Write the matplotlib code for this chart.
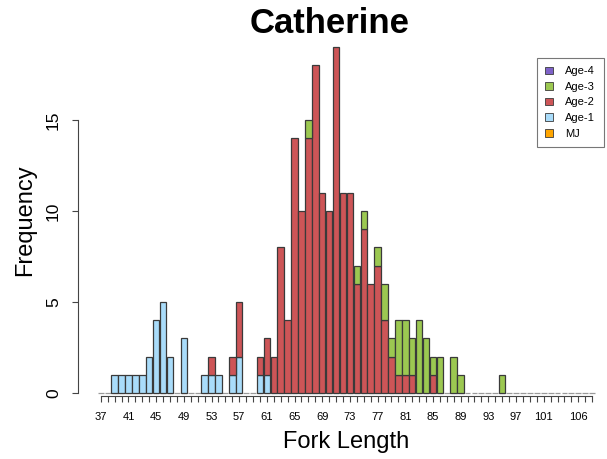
import matplotlib
matplotlib.use('Agg')
import matplotlib.pyplot as plt
from matplotlib.patches import Patch
import numpy as np

plt.rcParams['font.family'] = ['Liberation Sans', 'DejaVu Sans']

# ---- data ----
fork_length = list(range(37, 109))
tick_labels = [37, 41, 45, 49, 53, 57, 61, 65, 69, 73, 77, 81, 85, 89, 93, 97, 101, 106]

# counts per fork length (lengths not listed are 0)
age1_counts = {39: 1, 40: 1, 41: 1, 42: 1, 43: 1, 44: 2, 45: 4, 46: 5, 47: 2, 49: 3,
               52: 1, 53: 1, 54: 1, 56: 1, 57: 2, 60: 1, 61: 1}
age2_counts = {53: 1, 56: 1, 57: 3, 60: 1, 61: 2, 62: 2, 63: 8, 64: 4, 65: 14, 66: 10,
               67: 14, 68: 18, 69: 11, 70: 10, 71: 19, 72: 11, 73: 11, 74: 6, 75: 9,
               76: 6, 77: 7, 78: 4, 79: 2, 80: 1, 81: 1, 82: 1, 85: 1}
age3_counts = {67: 1, 74: 1, 75: 1, 77: 1, 78: 2, 79: 1, 80: 3, 81: 3, 82: 2, 83: 4,
               84: 3, 85: 1, 86: 2, 88: 2, 89: 1, 95: 1}
age4_counts = {}
mj_counts = {}

series_names = ['MJ', 'Age-1', 'Age-2', 'Age-3', 'Age-4']
series_counts = [mj_counts, age1_counts, age2_counts, age3_counts, age4_counts]
series_colors = ['#FFA500', '#A9DCFA', '#CD5557', '#9CC851', '#7E62C8']

# ---- figure ----
W, H = 607, 459
fig = plt.figure(figsize=(W / 100, H / 100), dpi=100)
ax = fig.add_axes([78 / W, (H - 406.8) / H, (W - 78) / W, (406.8 - 33.4) / H])

x = np.array(fork_length, dtype=float)
bw = 0.94
edge = '#3a3a3a'

# baseline segments (zero-height bars as drawn by R)
ax.hlines(np.zeros_like(x), x - 0.42, x + 0.42, colors='#9a9a9a', linewidth=0.9, zorder=1)

bottom = np.zeros(len(x))
for name, cnt, col in zip(series_names, series_counts, series_colors):
    vals = np.array([cnt.get(f, 0) for f in fork_length], dtype=float)
    mask = vals > 0
    if mask.any():
        ax.bar(x[mask], vals[mask], width=bw, bottom=bottom[mask], color=col,
               edgecolor=edge, linewidth=0.9, zorder=2)
    bottom += vals

ax.set_xlim(37 - 3.295, 37 + (W - 100.8) / 6.92)
ax.set_ylim(-0.76, 19.76)

for s in ['top', 'right']:
    ax.spines[s].set_visible(False)
ax.spines['left'].set_bounds(0, 15)
ax.spines['bottom'].set_position(('data', -0.17))
ax.spines['bottom'].set_bounds(fork_length[0], fork_length[-1])
for s in ['left', 'bottom']:
    ax.spines[s].set_color('#444444')
    ax.spines[s].set_linewidth(0.8)

ax.set_yticks([0, 5, 10, 15])
ax.set_yticklabels(['0', '5', '10', '15'], rotation=90, va='center', fontsize=12.5)
ax.tick_params(axis='y', length=4.3, width=0.8, color='#444444', pad=8)

ax.set_xticks(fork_length)
ax.set_xticklabels([str(f) if f in tick_labels else '' for f in fork_length], fontsize=8)
ax.tick_params(axis='x', length=4.3, width=0.8, color='#444444', pad=7)

fig.text(330 / W, (H - 33) / H, 'Catherine', ha='center', va='baseline',
         fontsize=25, fontweight='bold')
fig.text(346 / W, (H - 442) / H, 'Fork Length', ha='center', va='center', fontsize=17)
fig.text(25 / W, (H - 220) / H, 'Frequency', ha='center', va='center', fontsize=17,
         rotation=90)

handles = [Patch(facecolor=c, edgecolor=edge, linewidth=0.6, label=n)
           for n, c in zip(series_names[::-1], series_colors[::-1])]
leg = ax.legend(handles=handles, loc='upper left', bbox_to_anchor=(537 / W, 1 - 58 / H),
                bbox_transform=fig.transFigure, frameon=True, fancybox=False,
                fontsize=8, handlelength=0.7, handleheight=0.7, labelspacing=0.5,
                borderpad=0.75, handletextpad=1.1, borderaxespad=0)
leg.get_frame().set_edgecolor('#555555')
leg.get_frame().set_linewidth(0.8)

fig.savefig('out.png', dpi=100)
